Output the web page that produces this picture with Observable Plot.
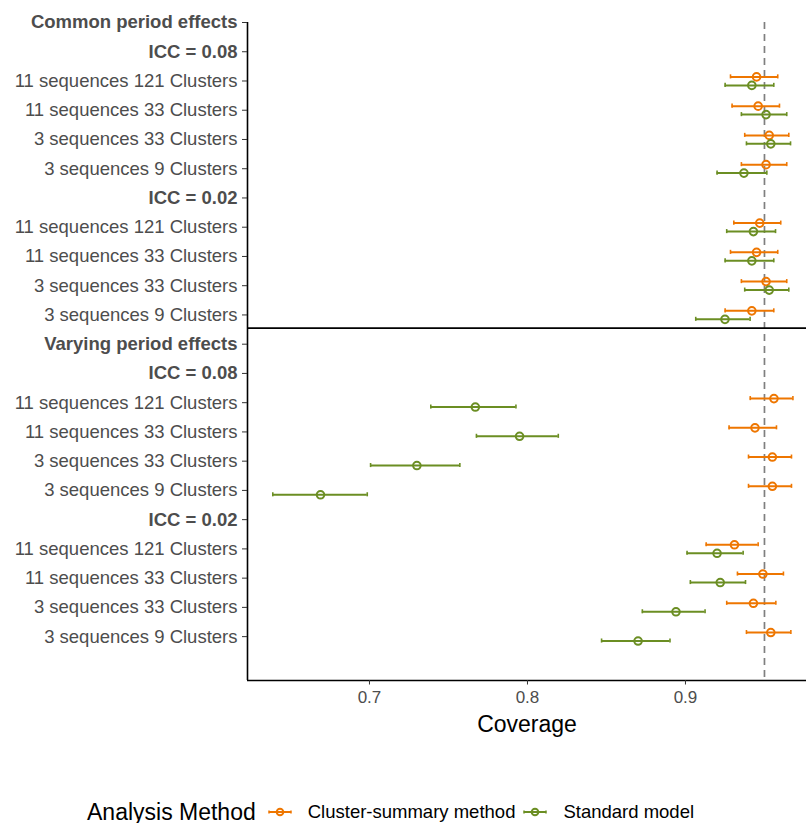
<!DOCTYPE html>
<html><head><meta charset="utf-8">
<script src="https://cdn.jsdelivr.net/npm/d3@7"></script>
<script src="https://cdn.jsdelivr.net/npm/@observablehq/plot@0.6"></script>
<style>
body{margin:0;background:#fff;font-family:"Liberation Sans",Arial,sans-serif;}
#legend{display:flex;align-items:center;height:44px;padding-left:87px;font-size:18.5px;color:#000;white-space:nowrap;}
#legend .title{font-size:23px;margin-right:12px;}
#legend .key{display:inline-block;width:24px;height:20px;margin-right:16px;}
#legend .lab{margin-right:8px;}
</style></head><body>
<div id="chart"></div>
<div id="legend"></div>
<script>
const rowLabels = [
  "Common period effects","ICC = 0.08",
  "11 sequences 121 Clusters","11 sequences 33 Clusters","3 sequences 33 Clusters","3 sequences 9 Clusters",
  "ICC = 0.02",
  "11 sequences 121 Clusters","11 sequences 33 Clusters","3 sequences 33 Clusters","3 sequences 9 Clusters",
  "Varying period effects","ICC = 0.08",
  "11 sequences 121 Clusters","11 sequences 33 Clusters","3 sequences 33 Clusters","3 sequences 9 Clusters",
  "ICC = 0.02",
  "11 sequences 121 Clusters","11 sequences 33 Clusters","3 sequences 33 Clusters","3 sequences 9 Clusters"
];
const boldRows = [0,1,6,11,12,17];
const estimateRows = [2,3,4,5,7,8,9,10,13,14,15,16,18,19,20,21];
const methods = ["Cluster-summary method","Standard model"];
const methodColors = ["#EE7600","#6B8E23"];

const clusterCov = [0.945,0.946,0.953,0.951, 0.947,0.945,0.951,0.942, 0.956,0.944,0.955,0.955, 0.931,0.949,0.943,0.954];
const clusterLo  = [0.9285,0.9295,0.9375,0.9354, 0.9306,0.9285,0.9354,0.9251, 0.9410,0.9276,0.9399,0.9399, 0.9131,0.9329,0.9261,0.9386];
const clusterHi  = [0.9584,0.9595,0.9654,0.9641, 0.9603,0.9584,0.9641,0.9559, 0.9680,0.9576,0.9671,0.9671, 0.9460,0.9620,0.9572,0.9667];

const standardCov = [0.942,0.951,0.954,0.937, 0.943,0.942,0.953,0.925, 0.767,0.795,0.730,0.669, 0.920,0.922,0.894,0.870];
const standardLo  = [0.9251,0.9354,0.9386,0.9200, 0.9261,0.9251,0.9375,0.9065, 0.7388,0.7677,0.7007,0.6388, 0.9010,0.9031,0.8727,0.8469];
const standardHi  = [0.9559,0.9641,0.9665,0.9515, 0.9570,0.9559,0.9654,0.9409, 0.7927,0.8195,0.7572,0.6986, 0.9365,0.9380,0.9124,0.8902];

const xTicks = [0.7,0.8,0.9];
const nominal = 0.95;

const dodge = [-0.14, 0.15];
const data = [];
estimateRows.forEach((r,i)=>{
  data.push({method:methods[0], row:r+dodge[0], cov:clusterCov[i], lo:clusterLo[i], hi:clusterHi[i]});
});
estimateRows.forEach((r,i)=>{
  data.push({method:methods[1], row:r+dodge[1], cov:standardCov[i], lo:standardLo[i], hi:standardHi[i]});
});
const normalRows = rowLabels.map((_,i)=>i).filter(i=>!boldRows.includes(i));
const xDomain = [0.6228, 0.9766];
const yDomain = [0, 22.5];
const capH = 0.07;

const chart = Plot.plot({
  width: 806, height: 790,
  marginLeft: 247, marginRight: 0, marginTop: 22, marginBottom: 110,
  style: {fontFamily: '"Liberation Sans", Arial, sans-serif', background: "white"},
  x: {domain: xDomain},
  y: {domain: yDomain, range: [22, 680]},
  color: {domain: methods, range: methodColors},
  marks: [
    Plot.ruleX([nominal], {stroke: "#7f7f7f", strokeWidth: 1.7, strokeDasharray: "7,5"}),
    Plot.ruleY([10.45], {stroke: "#000", strokeWidth: 1.6}),
    Plot.ruleY(data, {y: "row", x1: "lo", x2: "hi", stroke: "method", strokeWidth: 2}),
    Plot.ruleX(data, {x: "lo", y1: d=>d.row-capH, y2: d=>d.row+capH, stroke: "method", strokeWidth: 1.6}),
    Plot.ruleX(data, {x: "hi", y1: d=>d.row-capH, y2: d=>d.row+capH, stroke: "method", strokeWidth: 1.6}),
    Plot.dot(data, {x: "cov", y: "row", stroke: "method", r: 3.8, strokeWidth: 2, fill: "none"}),
    Plot.ruleX([xDomain[0]], {y1: 0, y2: yDomain[1], stroke: "#000", strokeWidth: 1.6}),
    Plot.ruleY([yDomain[1]], {stroke: "#000", strokeWidth: 1.6}),
    Plot.axisY({ticks: normalRows, tickFormat: i=>rowLabels[i], tickSize: 5, tickPadding: 5, fontSize: 18.5, color: "#4d4d4d", stroke: "#333", label: null}),
    Plot.axisY({ticks: boldRows, tickFormat: i=>rowLabels[i], tickSize: 5, tickPadding: 5, fontSize: 18.5, fontWeight: "bold", color: "#4d4d4d", stroke: "#333", label: null}),
    Plot.axisX({ticks: xTicks, tickFormat: d=>d.toFixed(1), tickSize: 4.5, tickPadding: 6, fontSize: 17, color: "#4d4d4d", stroke: "#333", label: null}),
    Plot.text(["Coverage"], {frameAnchor: "bottom", dy: 51, fontSize: 23, fill: "#000"})
  ]
});
document.getElementById("chart").appendChild(chart);

const legend = document.getElementById("legend");
let html = '<span class="title">Analysis Method</span>';
methods.forEach((m,i)=>{
  const c = methodColors[i];
  html += `<svg class="key" viewBox="0 0 24 20"><line x1="1" x2="23" y1="10" y2="10" stroke="${c}" stroke-width="2"/><line x1="1" x2="1" y1="8.5" y2="11.5" stroke="${c}" stroke-width="1.5"/><line x1="23" x2="23" y1="8.5" y2="11.5" stroke="${c}" stroke-width="1.5"/><circle cx="12" cy="10" r="3.3" fill="none" stroke="${c}" stroke-width="2"/></svg><span class="lab">${m}</span>`;
});
legend.innerHTML = html;
</script>
</body></html>
